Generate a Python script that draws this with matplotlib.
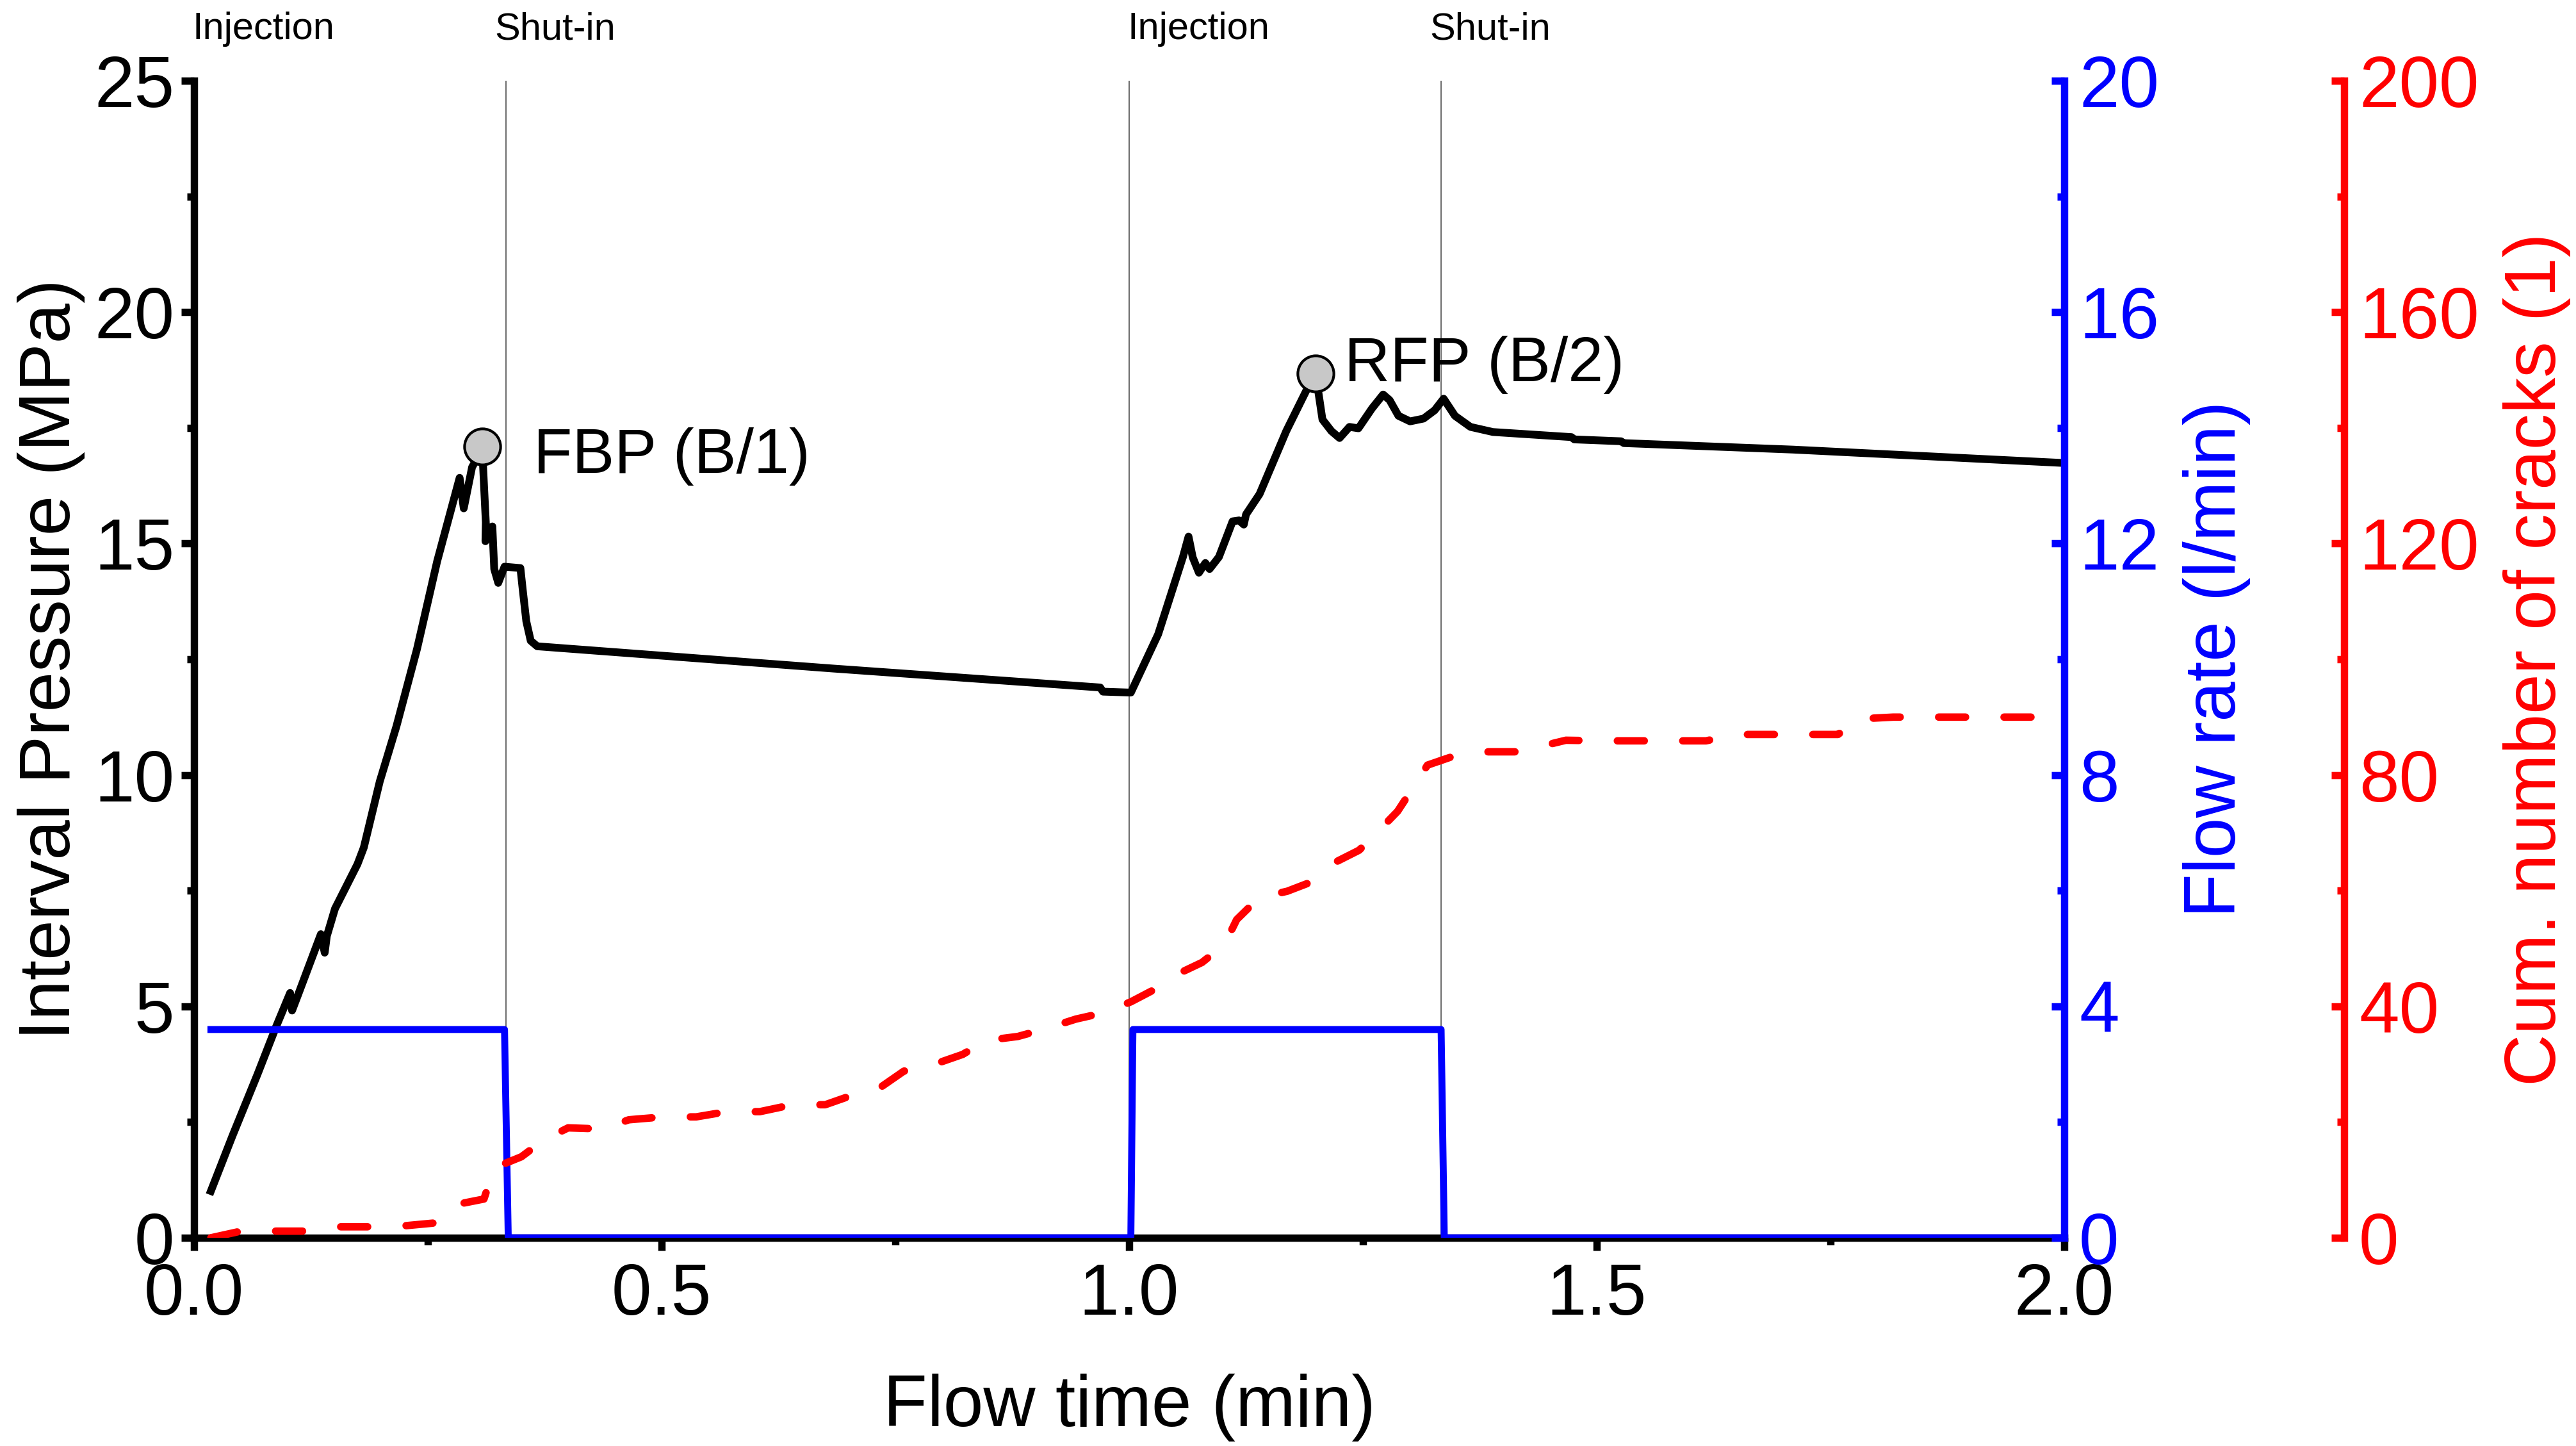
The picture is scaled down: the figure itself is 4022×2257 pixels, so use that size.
import matplotlib
matplotlib.use("Agg")
import matplotlib.pyplot as plt
import matplotlib.ticker as mticker
import matplotlib.transforms as mtransforms

plt.rcParams['font.family'] = ['Liberation Sans', 'DejaVu Sans']

# interval pressure (MPa) vs flow time (min)
time_p = [0.018, 0.041, 0.068, 0.0875, 0.1027, 0.1048, 0.1116, 0.1356, 0.1397, 0.142,
          0.1507, 0.1747, 0.1815, 0.1986, 0.2164, 0.2384, 0.260, 0.284, 0.2884, 0.2973,
          0.307, 0.309, 0.312, 0.3116, 0.319, 0.321, 0.3253, 0.332, 0.349, 0.3515,
          0.3553, 0.360, 0.367, 0.683, 0.969, 0.972, 1.0018,
          1.031, 1.0575, 1.0635, 1.068, 1.0746, 1.0815, 1.086, 1.096, 1.1106,
          1.1175, 1.1226, 1.125, 1.1395, 1.168, 1.192, 1.1994, 1.2067, 1.2163,
          1.225, 1.2356, 1.2452, 1.2597, 1.2716, 1.2785, 1.288, 1.3004, 1.3148,
          1.3267, 1.3363, 1.3484, 1.365, 1.389, 1.473, 1.476, 1.526, 1.529, 1.710, 2.0]
pressure = [1.01, 2.2, 3.54, 4.55, 5.29, 4.91, 5.27, 6.56, 6.16, 6.52,
            7.11, 8.07, 8.43, 9.86, 11.05, 12.72, 14.62, 16.42, 15.76, 16.65,
            17.0, 16.7, 15.46, 15.05, 15.37, 14.45, 14.15, 14.5, 14.47, 14.0,
            13.32, 12.9, 12.78, 12.3, 11.89, 11.80, 11.78,
            13.04, 14.71, 15.15, 14.7, 14.37, 14.58, 14.45, 14.71, 15.48,
            15.5, 15.41, 15.63, 16.07, 17.43, 18.41, 18.67, 17.68, 17.43,
            17.28, 17.52, 17.49, 17.92, 18.22, 18.1, 17.76, 17.64, 17.70,
            17.88, 18.13, 17.76, 17.52, 17.41, 17.30, 17.25, 17.21, 17.17, 17.03, 16.74]

# flow rate (l/min)
time_q = [0.018, 0.332, 0.336, 1.0018, 1.004, 1.3336, 1.337, 2.0]
flow = [3.6, 3.6, 0.0, 0.0, 3.6, 3.6, 0.0, 0.0]

# cumulative number of cracks
time_c = [0.018, 0.046, 0.085, 0.12, 0.155, 0.19, 0.227, 0.260, 0.282, 0.310,
          0.321, 0.350, 0.374, 0.400, 0.437, 0.465, 0.502, 0.537, 0.570, 0.605,
          0.640, 0.675, 0.705, 0.734, 0.759, 0.790, 0.822, 0.847, 0.881, 0.910,
          0.943, 0.973, 1.002, 1.028, 1.052, 1.078, 1.102, 1.115, 1.139, 1.169,
          1.198, 1.219, 1.246, 1.266, 1.287, 1.302, 1.319, 1.346, 1.380, 1.417,
          1.439, 1.467, 1.507, 1.617, 1.649, 1.758, 1.782, 1.817, 2.0]
cracks = [0.0, 1.0, 1.15, 1.15, 1.9, 1.9, 2.1, 2.6, 5.8, 6.7,
          12.1, 14.0, 16.9, 19.0, 18.8, 20.4, 20.9, 20.9, 21.8, 21.8,
          23.0, 23.0, 24.7, 26.0, 28.8, 29.9, 31.7, 34.1, 34.8, 36.1,
          37.8, 38.9, 40.8, 43.0, 45.6, 47.6, 50.7, 55.0, 58.8, 59.9,
          61.7, 64.8, 67.0, 70.2, 73.7, 77.4, 81.7, 83.2, 84.0, 84.0,
          84.9, 86.0, 85.9, 85.9, 87.0, 87.0, 89.7, 90.0, 90.0]

phase_t = [0.0, 1 / 3, 1.0, 4 / 3]
phase_labels = ['Injection', 'Shut-in', 'Injection', 'Shut-in']
phase_shift_px = [-2, -17, -2, -17]

peak_t = [0.308, 1.1995]
peak_p = [17.09, 18.67]
peak_labels = ['FBP (B/1)', 'RFP (B/2)']
peak_offsets = [(19.2, -9.8), (10.8, -2.9)]

W, H, DPI = 4022, 2257, 300
fig = plt.figure(figsize=(W / DPI, H / DPI), dpi=DPI)
ax = fig.add_axes([303 / W, 1 - 1932 / H, 2920 / W, 1806 / H])
ax_q = ax.twinx()
ax_c = ax.twinx()
ax_c.spines['right'].set_position(('axes', 1.1497))

SPINE = 2.75
TICK = 2.75

for a in (ax, ax_q, ax_c):
    a.spines['top'].set_visible(False)
    for s in a.spines.values():
        s.set_linewidth(SPINE)
ax.spines['right'].set_visible(False)
ax_q.spines['left'].set_visible(False)
ax_c.spines['left'].set_visible(False)
ax_q.spines['bottom'].set_visible(False)
ax_c.spines['bottom'].set_visible(False)
ax_q.spines['right'].set_color('#0000ff')
ax_c.spines['right'].set_color('#ff0000')

# phase markers
base_tr = mtransforms.blended_transform_factory(ax.transData, fig.transFigure)
for t, lab, dx in zip(phase_t, phase_labels, phase_shift_px):
    ax.axvline(t, color='#6e6e6e', lw=0.5, zorder=1)
    tr = mtransforms.offset_copy(base_tr, fig=fig, x=dx / DPI, y=0, units='inches')
    ax.text(t, 1 - 61 / H, lab, transform=tr, ha='left', va='baseline',
            fontsize=14.3, clip_on=False)

ax.plot(time_p, pressure, color='black', lw=2.9, solid_joinstyle='round', zorder=3)
ax.plot(peak_t, peak_p, 'o', ms=13.5, mfc='#c8c8c8', mec='black', mew=1.0, zorder=5)
for t, p, lab, off in zip(peak_t, peak_p, peak_labels, peak_offsets):
    ax.annotate(lab, (t, p), xytext=off, textcoords='offset points',
                ha='left', va='baseline', fontsize=23.7)

ax_q.plot(time_q, flow, color='#0000ff', lw=2.6)
ax_c.plot(time_c, cracks, color='#ff0000', lw=2.8, dashes=(3.6, 5.15),
          dash_capstyle='round')

ax.set_xlim(0, 2.0)
ax.set_ylim(0, 25)
ax_q.set_ylim(0, 20)
ax_c.set_ylim(0, 200)

ax.xaxis.set_major_locator(mticker.MultipleLocator(0.5))
ax.xaxis.set_minor_locator(mticker.MultipleLocator(0.25))
ax.xaxis.set_major_formatter(mticker.FormatStrFormatter('%.1f'))
ax.yaxis.set_major_locator(mticker.MultipleLocator(5))
ax.yaxis.set_minor_locator(mticker.MultipleLocator(2.5))
ax_q.yaxis.set_major_locator(mticker.MultipleLocator(4))
ax_q.yaxis.set_minor_locator(mticker.MultipleLocator(2))
ax_c.yaxis.set_major_locator(mticker.MultipleLocator(40))
ax_c.yaxis.set_minor_locator(mticker.MultipleLocator(20))

ax.tick_params(axis='x', which='major', direction='out', length=4.8, width=TICK,
               labelsize=27, pad=4.3)
ax.tick_params(axis='x', which='minor', direction='out', length=2.6, width=TICK)
ax.tick_params(axis='y', which='major', direction='out', length=4.8, width=TICK,
               labelsize=27, pad=2.5)
ax.tick_params(axis='y', which='minor', direction='out', length=2.6, width=TICK)
for a, c in ((ax_q, '#0000ff'), (ax_c, '#ff0000')):
    a.tick_params(axis='y', which='major', direction='in', length=4.8, width=TICK,
                  color=c, labelcolor=c, labelsize=27, pad=5.5)
    a.tick_params(axis='y', which='minor', direction='in', length=2.6, width=TICK, color=c)

ax.set_xlabel('Flow time (min)', fontsize=27)
ax.xaxis.set_label_coords(0.5, -0.1174)
ax.set_ylabel('Interval Pressure (MPa)', fontsize=27)
ax.yaxis.set_label_coords(-0.0582, 0.5)
ax_q.set_ylabel('Flow rate (l/min)', fontsize=27, color='#0000ff')
ax_q.yaxis.set_label_coords(1.0634, 0.5)
ax_c.set_ylabel('Cum. number of cracks (1)', fontsize=27, color='#ff0000')
ax_c.yaxis.set_label_coords(1.2346, 0.5)

fig.savefig('out.png', dpi=DPI)
